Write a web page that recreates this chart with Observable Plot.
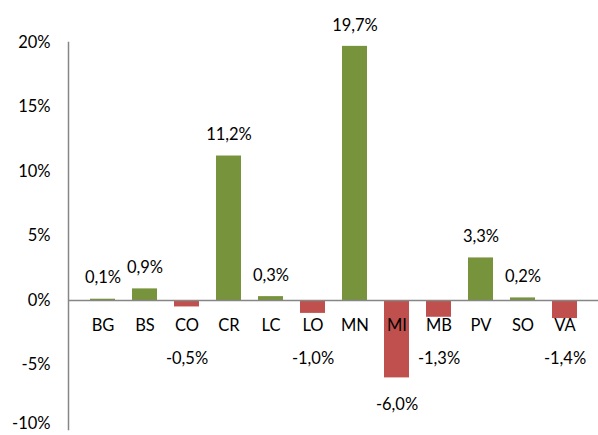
<!DOCTYPE html>
<html>
<head>
<meta charset="utf-8">
<script src="https://cdn.jsdelivr.net/npm/d3@7"></script>
<script src="https://cdn.jsdelivr.net/npm/@observablehq/plot@0.6"></script>
<style>
  html, body { margin: 0; padding: 0; background: #fff; }
  #chart svg { display: block; }
</style>
</head>
<body>
<div id="chart"></div>
<script>
const categories = ["BG","BS","CO","CR","LC","LO","MN","MI","MB","PV","SO","VA"];
const values = [0.1, 0.9, -0.5, 11.2, 0.3, -1.0, 19.7, -6.0, -1.3, 3.3, 0.2, -1.4];
const yTicks = [-10, -5, 0, 5, 10, 15, 20];

const data = categories.map((c, i) => ({cat: c, v: values[i]}));
const fmt = v => v.toFixed(1).replace(".", ",") + "%";
const pos = data.filter(d => d.v >= 0);
const neg = data.filter(d => d.v < 0).map(d => ({...d, ly: Math.min(d.v - 2.1, -4.5)}));

const FONT = "Lato, 'Open Sans', sans-serif";
const FS = 16.5;
const tickFmt = d => d + "%";

const chart = Plot.plot({
  width: 598,
  height: 435,
  marginLeft: 68,
  marginRight: 0,
  marginTop: 42,
  marginBottom: 6,
  style: {fontFamily: FONT, fontSize: FS + "px", color: "#000", background: "#fff"},
  x: {domain: categories, padding: 0.41, axis: null},
  y: {domain: [-10, 20], label: null},
  marks: [
    Plot.axisY(yTicks.slice(1), {tickSize: 0, tickPadding: 18, tickFormat: tickFmt, label: null, fontSize: FS}),
    Plot.axisY(yTicks.slice(0, 1), {tickSize: 0, tickPadding: 18, tickFormat: tickFmt, label: null, fontSize: FS, dy: -6}),
    Plot.barY(data, {x: "cat", y: "v", fill: d => d.v >= 0 ? "#77933C" : "#C0504D"}),
    Plot.ruleY([0], {stroke: "#868686", strokeWidth: 1.5}),
    Plot.frame({anchor: "left", stroke: "#868686", strokeWidth: 1.5}),
    Plot.text(data, {x: "cat", y: 0, text: "cat", dy: 25, fontSize: FS}),
    Plot.text(pos, {x: "cat", y: "v", text: d => fmt(d.v), dy: -21, fontSize: FS}),
    Plot.text(neg, {x: "cat", y: "ly", text: d => fmt(d.v), fontSize: FS})
  ]
});
document.getElementById("chart").appendChild(chart);
</script>
</body>
</html>
